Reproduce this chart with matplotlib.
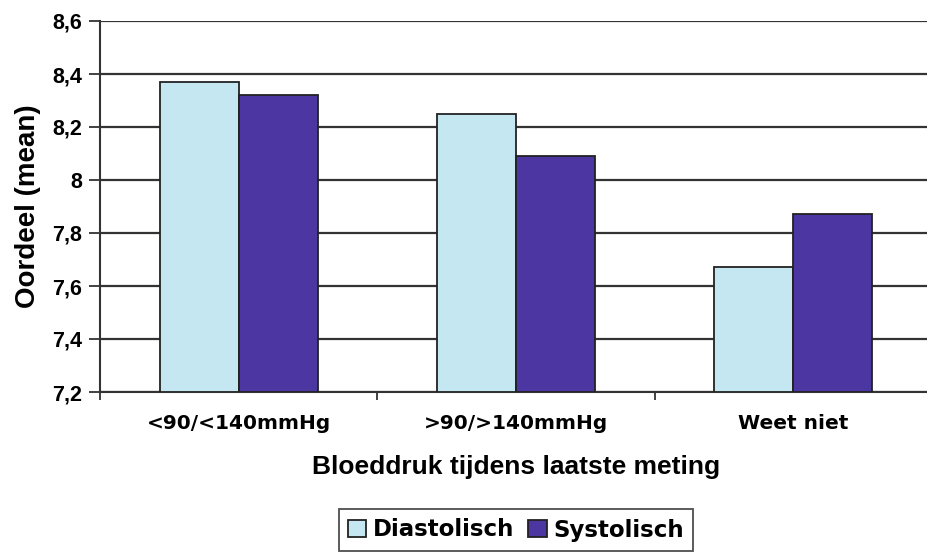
import matplotlib
matplotlib.use("Agg")
import matplotlib.pyplot as plt
import numpy as np

categories = ["<90/<140mmHg", ">90/>140mmHg", "Weet niet"]
diastolisch = [8.37, 8.25, 7.67]
systolisch = [8.32, 8.09, 7.87]
y_ticks = [7.2, 7.4, 7.6, 7.8, 8.0, 8.2, 8.4, 8.6]
y_tick_labels = ["7,2", "7,4", "7,6", "7,8", "8", "8,2", "8,4", "8,6"]

light = "#c4e7f1"
dark = "#4b36a2"
edge = "#222222"

fig = plt.figure(figsize=(9.27, 5.53), dpi=100)
ax = fig.add_axes([100 / 927, 1 - 392 / 553, 832 / 927, 371 / 553])

x = np.arange(len(categories))
w = 0.285
ax.bar(x - w / 2, np.array(diastolisch) - 7.2, w, bottom=7.2, color=light,
       edgecolor=edge, linewidth=1.3, label="Diastolisch", zorder=3)
ax.bar(x + w / 2, np.array(systolisch) - 7.2, w, bottom=7.2, color=dark,
       edgecolor=edge, linewidth=1.3, label="Systolisch", zorder=3)

ax.set_ylim(7.2, 8.6)
ax.set_xlim(-0.5, 2.5)
ax.set_yticks(y_ticks)
ax.set_yticklabels(y_tick_labels, fontfamily="Liberation Sans",
                   fontweight="bold", fontsize=15.5)
ax.yaxis.grid(True, color="#333333", linewidth=1.6, zorder=1)
ax.tick_params(axis="y", length=8, width=1.3, color="#333333", pad=5)

ax.set_xticks(x)
ax.set_xticklabels(categories, fontfamily="DejaVu Sans", fontweight="bold",
                   fontsize=14.5)
ax.set_xticks([-0.5, 0.5, 1.5], minor=True)
ax.tick_params(axis="x", which="major", length=0, pad=16)
ax.tick_params(axis="x", which="minor", length=6, width=1.3, color="#333333")

for side in ["top", "right"]:
    ax.spines[side].set_visible(False)
for side in ["left", "bottom"]:
    ax.spines[side].set_color("#333333")
    ax.spines[side].set_linewidth(1.5)

ax.set_ylabel("Oordeel (mean)", fontfamily="Liberation Sans",
              fontweight="bold", fontsize=20, labelpad=8)
ax.set_xlabel("Bloeddruk tijdens laatste meting", fontfamily="Liberation Sans",
              fontweight="bold", fontsize=19, labelpad=16)

leg = fig.legend(loc="center", bbox_to_anchor=(516 / 927, 1 - 530 / 553),
                 ncol=2, frameon=True, fancybox=False, edgecolor="#222222",
                 prop={"family": "DejaVu Sans", "weight": "bold", "size": 16.5},
                 handlelength=0.8, handleheight=0.8, handletextpad=0.3,
                 columnspacing=0.6, borderpad=0.4)
leg.get_frame().set_linewidth(1.3)

fig.savefig("out.png", dpi=100)
